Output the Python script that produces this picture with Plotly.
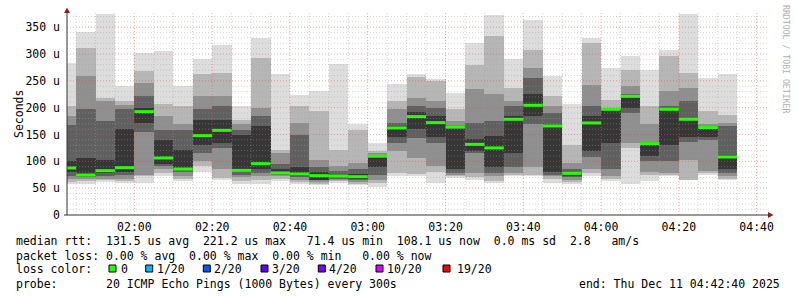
import plotly.graph_objects as go
import pandas as pd

# ---------------- data ----------------
# median RTT per 5-minute step, in microseconds
median = [87.7, 74.6, 82.6, 88.2, 192.7, 106.3, 85.8, 148.0, 157.8, 83.2,
          95.7, 78.4, 76.5, 73.3, 72.8, 71.4, 109.6, 162.3, 183.4, 172.2,
          164.2, 131.7, 125.0, 178.4, 204.5, 166.0, 77.6, 171.6, 197.0, 221.2,
          133.0, 197.0, 178.4, 162.9, 108.1]

# smoke bands (outermost -> innermost), low and high edge of each band
lo1 = [57, 57, 61, 60, 60, 72, 64, 81, 66, 58, 57, 63, 57, 55, 60, 55, 53, 72,
       72, 60, 69, 65, 60, 72, 72, 60, 58, 72, 63, 57, 63, 72, 65, 75, 66]
hi1 = [283, 342, 374, 240, 302, 305, 241, 291, 316, 203, 330, 262, 223, 232,
       282, 170, 134, 245, 262, 254, 228, 321, 372, 290, 364, 259, 206, 330,
       274, 296, 270, 308, 374, 256, 262]
lo2 = [62, 63, 65, 64, 72, 78, 67, 91, 69, 63, 66, 68, 62, 58, 64, 58, 60, 78,
       76, 80, 72, 70, 64, 75, 75, 68, 62, 78, 68, 125, 75, 75, 66, 78, 68]
hi2 = [203, 312, 218, 212, 268, 206, 203, 262, 265, 178, 293, 122, 203, 193,
       122, 159, 119, 212, 258, 250, 197, 280, 333, 237, 308, 221, 131, 321,
       215, 271, 203, 296, 265, 193, 187]
lo3 = [67, 68, 68, 68, 75, 85, 72, 100, 85, 70, 72, 72, 66, 62, 66, 62, 66, 119,
       106, 91, 75, 78, 72, 78, 90, 72, 66, 85, 72, 134, 80, 78, 103, 82, 72]
hi3 = [184, 259, 212, 205, 246, 184, 169, 221, 221, 169, 200, 115, 171, 103,
       91, 97, 115, 197, 218, 212, 175, 234, 225, 212, 274, 203, 97, 243, 200,
       240, 169, 231, 237, 169, 172]
lo4 = [72, 70, 72, 74, 155, 92, 80, 116, 125, 75, 78, 75, 70, 65, 68, 65, 75,
       134, 144, 134, 78, 116, 78, 90, 169, 75, 70, 109, 85, 190, 100, 100, 137,
       140, 78]
hi4 = [168, 197, 175, 197, 221, 159, 159, 197, 203, 159, 184, 95, 150, 90, 82,
       85, 112, 172, 203, 200, 168, 172, 175, 203, 256, 190, 85, 203, 198, 225,
       137, 203, 212, 165, 165]
lo5 = [80, 72, 78, 80, 171, 95, 84, 130, 135, 80, 85, 76, 73, 66, 70, 68, 90,
       145, 160, 145, 85, 120, 90, 116, 185, 80, 72, 120, 134, 200, 110, 131,
       145, 145, 85]
hi5 = [100, 106, 103, 160, 200, 140, 122, 178, 178, 150, 165, 85, 90, 80, 76,
       76, 108, 165, 192, 185, 160, 141, 147, 184, 225, 169, 80, 184, 197, 222,
       133, 197, 181, 162, 112]

y_tick_values = [0, 50, 100, 150, 200, 250, 300, 350]
y_tick_labels = ["0", "50 u", "100 u", "150 u", "200 u", "250 u", "300 u", "350 u"]

loss_labels = ["0", "1/20", "2/20", "3/20", "4/20", "10/20", "19/20"]
loss_colors = ["#26ff00", "#00b8ff", "#0059ff", "#5e00ff", "#7e00ff", "#dd00ff", "#ff0000"]

stat_line1 = "median rtt:  131.5 us avg  221.2 us max   71.4 us min  108.1 us now  0.0 ms sd  2.8   am/s"
stat_line2 = "packet loss: 0.00 % avg  0.00 % max  0.00 % min   0.00 % now"
probe_line = "probe:       20 ICMP Echo Pings (1000 Bytes) every 300s"
end_line = "end: Thu Dec 11 04:42:40 2025"

t_start = "2025-12-11 01:42:40"
t_end = "2025-12-11 04:42:40"
step_start = pd.date_range("2025-12-11 01:40:00", periods=len(median), freq="5min")

# ---------------- layout helpers ----------------
W, H = 797, 297
L, R, T, B = 67, 30, 13, 82
PW, PH = W - L - R, H - T - B


def px(x):
    return (x - L) / PW


def py(y):
    return (T + PH - y) / PH


FONT = "DejaVu Sans Mono"
band_colors = ["#dddddd", "#b6b6b6", "#8f8f8f", "#606060", "#363636"]
step = pd.Timedelta(minutes=5)
step_mid = step_start + step / 2
step_ms = step.total_seconds() * 1000

fig = go.Figure()
for lo, hi, col in zip([lo1, lo2, lo3, lo4, lo5], [hi1, hi2, hi3, hi4, hi5], band_colors):
    fig.add_trace(go.Bar(
        x=step_mid, y=[h - l for h, l in zip(hi, lo)], base=lo, width=step_ms,
        marker=dict(color=col, line=dict(width=0)), hoverinfo="skip", showlegend=False))

mx, my = [], []
for s, m in zip(step_start, median):
    mx += [s, s + step, None]
    my += [m, m, None]
fig.add_trace(go.Scatter(x=mx, y=my, mode="lines", line=dict(color=loss_colors[0], width=3),
                         hoverinfo="skip", showlegend=False))

MINOR = "rgba(160,160,160,0.45)"
MAJOR = "rgba(220,80,80,0.5)"
DASH = "1px,2px"
shapes = []
# grid drawn on top of the smoke, like rrdtool
for t in pd.date_range("2025-12-11 01:45:00", "2025-12-11 04:40:00", freq="5min"):
    major = t.minute % 20 == 0
    shapes.append(dict(type="line", xref="x", yref="paper", x0=t, x1=t, y0=0, y1=1, layer="above",
                       line=dict(color=MAJOR if major else MINOR, width=1, dash=DASH)))
for v in range(10, 380, 10):
    major = v % 50 == 0
    shapes.append(dict(type="line", xref="paper", yref="y", x0=0, x1=px(769), y0=v, y1=v, layer="above",
                       line=dict(color=MAJOR if major else MINOR, width=1, dash=DASH)))
# axis arrows
shapes.append(dict(type="path", xref="paper", yref="paper", layer="above",
                   path=f"M {px(64)},{py(13)} L {px(70)},{py(13)} L {px(67)},{py(7.5)} Z",
                   fillcolor="#9a1b1b", line=dict(width=0)))
shapes.append(dict(type="path", xref="paper", yref="paper", layer="above",
                   path=f"M {px(768)},{py(212)} L {px(768)},{py(218)} L {px(773.5)},{py(215)} Z",
                   fillcolor="#9a1b1b", line=dict(width=0)))
shapes.append(dict(type="line", xref="paper", yref="paper", layer="above",
                   x0=px(67), x1=px(67), y0=py(215), y1=py(12), line=dict(color="#333333", width=1)))
shapes.append(dict(type="line", xref="paper", yref="paper", layer="above",
                   x0=px(64), x1=px(769), y0=py(215), y1=py(215), line=dict(color="#333333", width=1)))

# loss colour swatches
sq_left = [109, 145.7, 203.3, 261, 318.3, 376, 443]
lab_x = [120.7, 156.7, 214.3, 272, 329.3, 386.7, 457.3]
for x0, col in zip(sq_left, loss_colors):
    shapes.append(dict(type="rect", xref="paper", yref="paper",
                       x0=px(x0), x1=px(x0 + 7), y0=py(272), y1=py(265),
                       fillcolor=col, line=dict(color="#000000", width=1)))

ann = []


def text(x, y, s, anchor="left", size=11.5, color="#000000", angle=0):
    ann.append(dict(x=px(x), y=py(y), xref="paper", yref="paper", text=s, showarrow=False,
                    xanchor=anchor, yanchor="middle", textangle=angle,
                    font=dict(family=FONT, size=size, color=color), borderpad=0))


text(15, 241, stat_line1.replace(" ", "&nbsp;"))
text(15, 255.5, stat_line2.replace(" ", "&nbsp;"))
text(15, 269, "loss&nbsp;color:")
for x, s in zip(lab_x, loss_labels):
    text(x - 1, 269, s)
text(15, 283.5, probe_line.replace(" ", "&nbsp;"))
text(781, 283.5, end_line.replace(" ", "&nbsp;"), anchor="right")
text(11, 114, "Seconds", angle=-90)
ann.append(dict(x=px(786), y=py(59), xref="paper", yref="paper", text="RRDTOOL&nbsp;/&nbsp;TOBI&nbsp;OETIKER",
                showarrow=False, textangle=90, xanchor="center", yanchor="middle",
                font=dict(family=FONT, size=8.2, color="#b0b0b0")))

fig.update_layout(
    width=W, height=H, autosize=False,
    margin=dict(l=L, r=R, t=T, b=B, pad=0),
    paper_bgcolor="#ffffff", plot_bgcolor="#ffffff",
    barmode="overlay", bargap=0,
    shapes=shapes, annotations=ann, showlegend=False,
    font=dict(family=FONT, size=11.5, color="#000000"),
)
fig.update_xaxes(type="date", range=[t_start, t_end], tick0="2025-12-11 02:00:00", dtick=20 * 60 * 1000,
                 tickformat="%H:%M", showgrid=False, zeroline=False, showline=False, ticks="",
                 ticklabelstandoff=3, tickfont=dict(family=FONT, size=11.5, color="#000000"))
fig.update_yaxes(range=[0, 376.5], tickvals=y_tick_values, ticktext=y_tick_labels, showgrid=False,
                 zeroline=False, showline=False, ticks="", ticklabelstandoff=6,
                 tickfont=dict(family=FONT, size=11.5, color="#000000"))

fig.write_html("out.html")
